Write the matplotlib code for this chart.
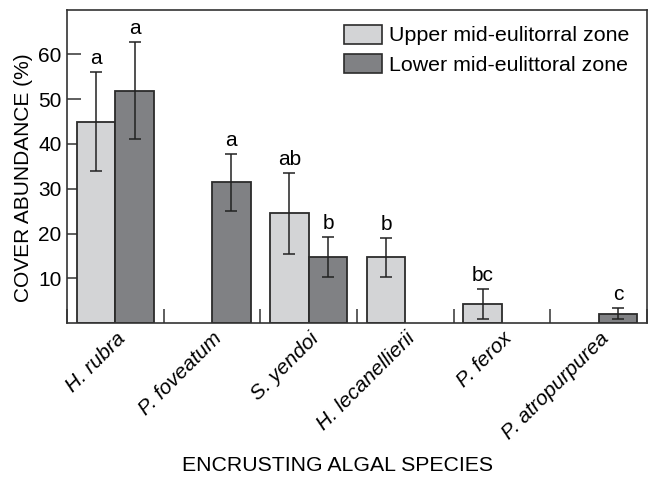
import numpy as np
import matplotlib.pyplot as plt
import matplotlib.transforms as mtransforms
from matplotlib.patches import Patch

plt.rcParams['font.family'] = ['Liberation Sans', 'DejaVu Sans']

species = ["H. rubra", "P. foveatum", "S. yendoi", "H. lecanellierii", "P. ferox", "P. atropurpurea"]
upper = [45.0, 0, 24.5, 14.8, 4.3, 0]
upper_lo = [34.0, 0, 15.5, 10.3, 0.9, 0]
upper_hi = [56.0, 0, 33.5, 19.1, 7.6, 0]
lower = [51.9, 31.4, 14.7, 0, 0, 2.1]
lower_lo = [41.0, 25.0, 10.2, 0, 0, 1.0]
lower_hi = [62.7, 37.8, 19.2, 0, 0, 3.4]
upper_letters = ["a", "", "ab", "b", "bc", ""]
lower_letters = ["a", "a", "b", "", "", "c"]

light = "#d3d4d6"
dark = "#808184"
edge = "#2b2b2b"

fig = plt.figure(figsize=(6.51, 4.78), dpi=100)
ax = fig.add_axes([0.103, 0.324, 0.891, 0.656])

x = np.arange(len(species))
w = 0.4

def draw(xpos, val, lo, hi, letter, col):
    ax.bar(xpos, val, w, color=col, edgecolor=edge, linewidth=1.3, zorder=2)
    ax.errorbar(xpos, val, yerr=[[val - lo], [hi - val]],
                fmt="none", ecolor="#222222", elinewidth=1.1, capsize=4.3, capthick=1.1, zorder=3)
    ax.text(xpos, hi + 1.8, letter, ha="center", va="baseline", fontsize=15)

for i in range(len(species)):
    if upper[i] > 0:
        draw(x[i] - w / 2, upper[i], upper_lo[i], upper_hi[i], upper_letters[i], light)
    if lower[i] > 0:
        draw(x[i] + w / 2, lower[i], lower_lo[i], lower_hi[i], lower_letters[i], dark)

ax.set_xlim(-0.5, len(species) - 0.5)
ax.set_ylim(0, 70)
ax.set_yticks([10, 20, 30, 40, 50, 60])
ax.set_xticks(x)
ax.set_xticklabels(species, rotation=45, ha="right", rotation_mode="anchor", style="italic", fontsize=15)
shift = mtransforms.ScaledTranslation(6 / 100, 0, fig.dpi_scale_trans)
for lab in ax.get_xticklabels():
    lab.set_transform(lab.get_transform() + shift)
ax.set_xticks(np.arange(-0.5, len(species) - 0.4, 1.0), minor=True)
ax.tick_params(axis="x", which="major", length=0, pad=4)
ax.tick_params(axis="x", which="minor", direction="in", length=10, width=1.1, color="#333333")
ax.tick_params(axis="y", direction="in", length=10, width=1.1, color="#333333", labelsize=15, pad=4)

for s in ax.spines.values():
    s.set_color("#333333")
    s.set_linewidth(1.2)

ax.set_ylabel("COVER ABUNDANCE (%)", fontsize=15)
ax.yaxis.set_label_coords(-0.058, 0.464)
ax.set_xlabel("ENCRUSTING ALGAL SPECIES", fontsize=15.3)
ax.xaxis.set_label_coords(0.467, -0.470)
ax.xaxis.label.set_va("baseline")

handles = [Patch(facecolor=light, edgecolor=edge, linewidth=1.2, label="Upper mid-eulitorral zone"),
           Patch(facecolor=dark, edgecolor=edge, linewidth=1.2, label="Lower mid-eulittoral zone")]
ax.legend(handles=handles, loc="upper right", frameon=False, fontsize=15.4,
          handlelength=1.8, handleheight=1.0, handletextpad=0.3, labelspacing=0.4,
          borderaxespad=0.3, bbox_to_anchor=(0.995, 1.0))

fig.savefig("out.png", dpi=100)
